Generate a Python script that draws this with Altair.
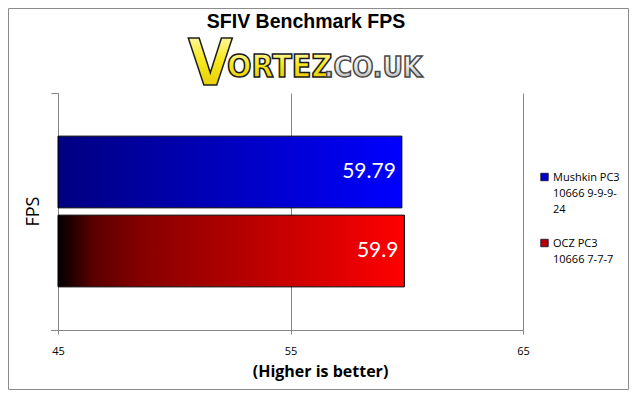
import altair as alt
import pandas as pd

# ---- data ----
series = ["Mushkin PC3 10666 9-9-9-24", "OCZ PC3 10666 7-7-7"]
legend_lines = ["Mushkin PC3|10666 9-9-9-|24", "OCZ PC3|10666 7-7-7"]
fps = [59.79, 59.9]
value_labels = ["59.79", "59.9"]
category = "FPS"
x_ticks = [45, 55, 65]
x_domain = [45, 65]
chart_title = "SFIV Benchmark FPS"
logo_parts = ["V", "ORTEZ", ".CO.UK"]
x_title = "(Higher is better)"

df = pd.DataFrame({
    "series": series,
    "fps": fps,
    "cat": [category] * len(series),
    "legend": legend_lines,
    "label": value_labels,
})

GRID = "#868686"
W, H = 465, 237
PAD = {"left": 50, "top": 85, "right": 106, "bottom": 60}

def lin(stops, vertical=False):
    return alt.LinearGradient(
        gradient="linear",
        stops=[alt.GradientStop(color=c, offset=o) for o, c in stops],
        x1=0, y1=0, x2=0 if vertical else 1, y2=1 if vertical else 0,
    )

bar_fills = [
    lin([(0, "#000080"), (1, "#0000ff")]),
    lin([(0, "#000000"), (0.1, "#5a0000"), (0.25, "#880000"), (1, "#ff0000")]),
]
legend_fills = ["#0000c8", "#b00000"]

x_enc = alt.X(
    "fps:Q",
    scale=alt.Scale(domain=x_domain, nice=False, zero=False),
    axis=alt.Axis(
        values=x_ticks, grid=True, gridColor=GRID, domainColor=GRID, tickColor=GRID,
        tickSize=4, labelFont="Open Sans", labelFontSize=11, labelColor="black",
        labelPadding=11, labelFlush=False,
        title=x_title, titleX=262, titleY=46, titleAlign="center",
        titleBaseline="alphabetic", titleFont="Open Sans", titleFontSize=16,
        titleFontWeight="bold", titleColor="black",
    ),
)
y_enc = alt.Y(
    "cat:N",
    scale=alt.Scale(paddingInner=0, paddingOuter=0),
    axis=alt.Axis(
        labels=False, bandPosition=0, tickSize=7, tickColor=GRID, domainColor=GRID,
        title=category, titleAngle=270, titleX=-20, titleY=118, titleAlign="center",
        titleBaseline="alphabetic", titleFont="Open Sans", titleFontSize=18,
        titleFontWeight="normal", titleColor="black",
    ),
)
yoff_enc = alt.YOffset(
    "series:N",
    scale=alt.Scale(domain=series, paddingInner=0.0924, paddingOuter=0.546),
)

layers = []
for i, s in enumerate(series):
    layers.append(
        alt.Chart(df).transform_filter(alt.datum.series == s)
        .mark_bar(fill=bar_fills[i], stroke="black", strokeWidth=1)
        .encode(x=x_enc, x2=alt.datum(x_domain[0]), y=y_enc, yOffset=yoff_enc)
    )

labels = alt.Chart(df).mark_text(
    align="right", baseline="middle", dx=-6, color="white", font="Lato", fontSize=21
).encode(x=x_enc, y=y_enc, yOffset=yoff_enc, text="label:N")
layers.append(labels)

# bottom-left tick of category axis
one = pd.DataFrame({"k": [0]})
layers.append(
    alt.Chart(one).mark_rule(color=GRID, strokeWidth=1)
    .encode(x=alt.value(-7), x2=alt.value(0.5), y=alt.value(H + 0.5))
)

# legend (manual, Excel-style)
for i, s in enumerate(series):
    sub = alt.Chart(df).transform_filter(alt.datum.series == s)
    layers.append(
        sub.mark_square(size=56, fill=legend_fills[i], stroke="#101030", strokeWidth=0.8, opacity=1)
        .encode(x=alt.value(486.5), y=alt.value(84 + 66 * i))
    )
    layers.append(
        sub.mark_text(align="left", baseline="alphabetic", lineBreak="|", lineHeight=16,
                      font="Open Sans", fontSize=11, color="black")
        .encode(x=alt.value(495), y=alt.value(87.5 + 66 * i), text="legend:N")
    )

# title
title_df = pd.DataFrame({"t": [chart_title]})
layers.append(
    alt.Chart(title_df).mark_text(align="center", baseline="alphabetic", font="Liberation Sans",
                                  fontSize=19.5, fontWeight="bold", color="black")
    .encode(x=alt.value(248), y=alt.value(-65.5), text="t:N")
)

# logo as text
logo_font = "Liberation Sans Narrow, DejaVu Sans Condensed, sans-serif"
yellow = lin([(0, "#fffbe0"), (0.45, "#f7ea20"), (1, "#e0c000")], vertical=True)
silver = lin([(0, "#ffffff"), (0.5, "#e6e6e6"), (1, "#a8a8a8")], vertical=True)
logo_spec = [
    (logo_parts[0], 130, -8, 64, yellow, "#1a1a1a"),
    (logo_parts[1], 169, -16, 32, yellow, "#1a1a1a"),
    (logo_parts[2], 266, -16, 28, silver, "#4a4a4a"),
]
for txt, lx, ly, fs, fill, stroke in logo_spec:
    ldf = pd.DataFrame({"t": [txt]})
    layers.append(
        alt.Chart(ldf).mark_text(align="left", baseline="alphabetic", font=logo_font,
                                 fontSize=fs, fontWeight="bold", fill=fill, stroke=stroke,
                                 strokeWidth=1.5)
        .encode(x=alt.value(lx), y=alt.value(ly), text="t:N")
    )

# outer frame (just inside the chart's edges)
layers.append(
    alt.Chart(one).mark_rect(fillOpacity=0, stroke="#8c8c8c", strokeWidth=1)
    .encode(
        x=alt.value(-PAD["left"] + 0.5), x2=alt.value(W + PAD["right"] - 0.5),
        y=alt.value(-PAD["top"] + 0.5), y2=alt.value(H + PAD["bottom"] - 0.5),
    )
)

chart = alt.layer(*layers).properties(
    width=W, height=H,
    padding=PAD,
    autosize=alt.AutoSizeParams(type="none"),
    background="white",
).configure_view(strokeWidth=0)

chart.save("out.html", embed_options={"renderer": "svg", "actions": False})
